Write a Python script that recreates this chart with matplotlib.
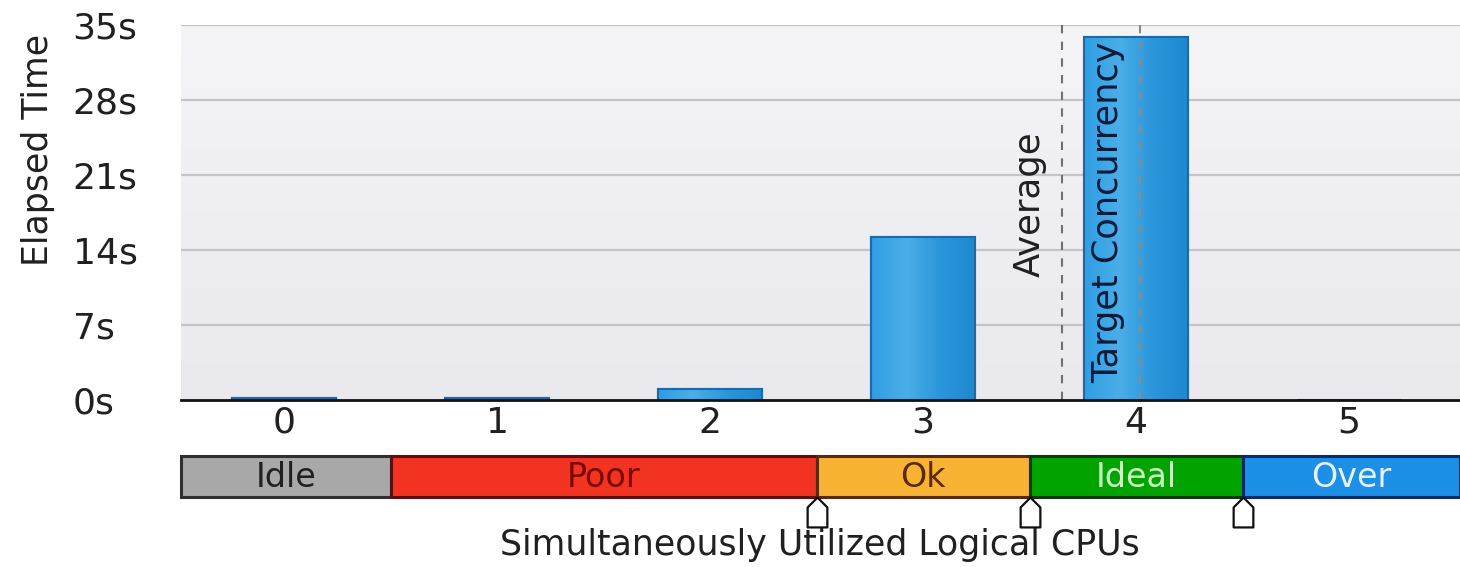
import matplotlib
matplotlib.use("Agg")
import matplotlib.pyplot as plt
import numpy as np
from matplotlib.path import Path
from matplotlib.colors import LinearSegmentedColormap

# ---- data ----
categories = [0, 1, 2, 3, 4, 5]
elapsed_s = [0.2, 0.2, 1.0, 15.2, 33.9, 0.0]
y_ticks = [0, 7, 14, 21, 28, 35]
y_tick_labels = ["0s", "7s", "14s", "21s", "28s", "35s"]
average_cpu = 3.65
target_cpu = 4.02
zone_names = ["Idle", "Poor", "Ok", "Ideal", "Over"]
zone_bounds = [-0.5, 0.5, 2.5, 3.5, 4.5, 5.52]
zone_colors = ["#a8a8a8", "#f23322", "#f8b334", "#00a300", "#1b90e6"]
zone_text_colors = ["#202020", "#7a0a00", "#5a2a00", "#c8f5c0", "#e6f2ff"]
zone_edge_colors = ["#303030", "#5a1010", "#5a2a10", "#0a3a0a", "#0a2a6a"]
marker_positions = [2.5, 3.5, 4.5]

FS = 26
plt.rcParams['font.family'] = ['DejaVu Sans']

fig = plt.figure(figsize=(14.6, 5.67), dpi=100)
W, H = 1460, 567
ax = fig.add_axes([181 / W, 1 - 400 / H, (1460 - 181) / W, 375 / H])
xmin, xmax = -0.484, 5.52
ax.set_xlim(xmin, xmax)
ax.set_ylim(0, 35)

# background gradient
grad = np.linspace(0, 1, 256).reshape(-1, 1)
cmap_bg = LinearSegmentedColormap.from_list("bg", ["#e9e9ee", "#f5f5f8"])
ax.imshow(grad, extent=[xmin, xmax, 0, 35], aspect="auto", cmap=cmap_bg,
          origin="lower", zorder=0)

for t in y_ticks[1:]:
    ax.axhline(t, color="#c4c4c8", lw=1.6, zorder=1)

bars = ax.bar(categories, elapsed_s, width=0.49, color="#2e9ce0",
              edgecolor="#1f6aa6", linewidth=1.5, zorder=2)
cmap_bar = LinearSegmentedColormap.from_list(
    "bar", ["#2f9ee2", "#4aaee8", "#2a96da", "#1f88cf"])
hgrad = np.linspace(0, 1, 128).reshape(1, -1)
for b in bars:
    h = b.get_height()
    if h <= 0:
        continue
    x0 = b.get_x()
    im = ax.imshow(hgrad, extent=[x0, x0 + b.get_width(), 0, h],
                   aspect="auto", cmap=cmap_bar, zorder=2.1)
    im.set_clip_path(b)
    ax.add_patch(plt.Rectangle((x0, 0), b.get_width(), h, fill=False,
                               edgecolor="#1f6aa6", lw=1.5, zorder=2.2))

ax.axvline(average_cpu, color="#707070", ls=(0, (4, 4)), lw=1.5, zorder=3)
ax.axvline(target_cpu, color="#8a8a8a", ls=(0, (4, 4)), lw=1.5, zorder=3)
ax.text(average_cpu - 0.15, 11.5, "Average", rotation=90, ha="center",
        va="bottom", fontsize=25.5, color="#202020", zorder=4)
ax.text(target_cpu - 0.15, 1.6, "Target Concurrency", rotation=90,
        ha="center", va="bottom", fontsize=25.3, color="#0c1a3a", zorder=4)

for s in ["left", "right", "top"]:
    ax.spines[s].set_visible(False)
ax.spines["bottom"].set_color("#101010")
ax.spines["bottom"].set_linewidth(2)
ax.spines["bottom"].set_zorder(5)
ax.set_yticks(y_ticks)
ax.set_yticklabels(y_tick_labels, fontsize=FS, color="#202020")
ax.set_xticks(categories)
ax.set_xticklabels([str(c) for c in categories], fontsize=FS, color="#202020")
ax.tick_params(length=0)
ax.tick_params(axis="x", pad=4)
for lbl in ax.get_yticklabels():
    lbl.set_horizontalalignment("left")
ax.tick_params(axis="y", pad=78)

fig.text(38 / W, 1 - 150 / H, "Elapsed Time", rotation=90, ha="center",
         va="center", fontsize=25, color="#202020")

# ---- zone band ----
bax = fig.add_axes([181 / W, 1 - 497 / H, (1460 - 181) / W, 41 / H])
bax.set_xlim(xmin, xmax)
bax.set_ylim(0, 1)
bax.axis("off")
for i, name in enumerate(zone_names):
    x0 = max(zone_bounds[i], xmin)
    x1 = zone_bounds[i + 1]
    bax.add_patch(plt.Rectangle((x0, 0), x1 - x0, 1, facecolor=zone_colors[i],
                                edgecolor=zone_edge_colors[i], lw=2.2,
                                clip_on=False))
    bax.text((x0 + x1) / 2, 0.47, name, ha="center", va="center",
             fontsize=24, color=zone_text_colors[i])

house = Path([(-0.33, -0.5), (0.33, -0.5), (0.33, 0.17), (0, 0.5),
              (-0.33, 0.17), (-0.33, -0.5)],
             [Path.MOVETO, Path.LINETO, Path.LINETO, Path.LINETO,
              Path.LINETO, Path.CLOSEPOLY])
bax.plot(marker_positions, [-0.37] * len(marker_positions), ls="none",
         marker=house, markersize=21.5, markerfacecolor="white",
         markeredgecolor="#101010", markeredgewidth=1.6, clip_on=False,
         zorder=5)

fig.text(820 / W, 1 - 545 / H, "Simultaneously Utilized Logical CPUs",
         ha="center", va="center", fontsize=25, color="#202020")

fig.savefig("out.png", dpi=100, facecolor="white")
